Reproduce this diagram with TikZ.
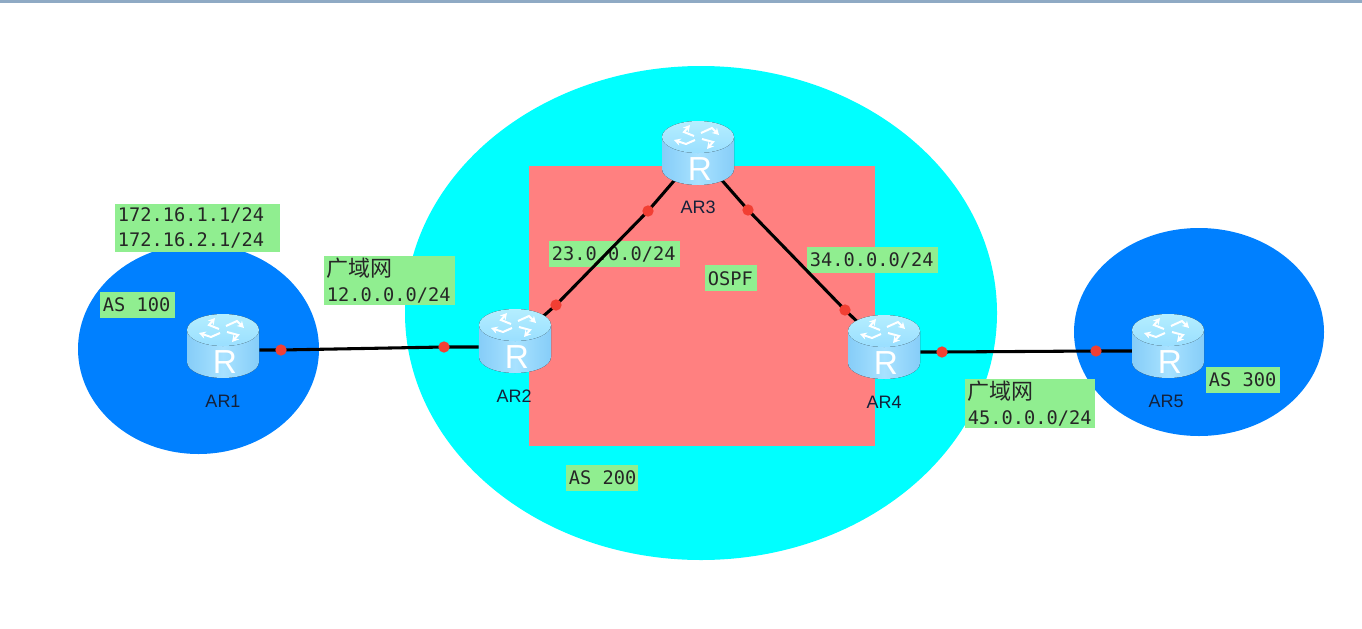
\documentclass[tikz,border=0pt]{standalone}
\usepackage{fontspec}
\setmainfont{Liberation Sans}
\newfontfamily\labelmono{DejaVu Sans Mono}
\newfontfamily\cjkfont{Noto Sans CJK SC}
\usetikzlibrary{arrows.meta}
\pgfdeclarelayer{backdrop}
\pgfdeclarelayer{links}
\pgfsetlayers{backdrop,links,main}
\definecolor{ascyan}{HTML}{00FFFF}
\definecolor{asblue}{HTML}{0080FF}
\definecolor{ospfred}{HTML}{FF8080}
\definecolor{notegreen}{HTML}{90EE90}
\definecolor{dotred}{HTML}{F23F33}
\definecolor{barblue}{HTML}{8FAAC4}
\definecolor{textdark}{HTML}{14213A}
\definecolor{bodyedge}{HTML}{86CDF8}
\definecolor{bodymid}{HTML}{A8E2FF}
\definecolor{topedge}{HTML}{9ADFFF}
\definecolor{topmid}{HTML}{B4EEFF}
\newcommand{\msp}{\hspace{0.602em}}
\newcommand{\upln}[1]{\raisebox{1.5pt}{#1}}
\tikzset{
  notebox/.style={fill=notegreen,anchor=north west,inner xsep=2pt,inner ysep=0pt,align=left,
    font=\labelmono\fontsize{14pt}{19pt}\selectfont,text=black!85},
  routerbox/.style={minimum width=54pt,minimum height=48pt,inner sep=0pt},
  routername/.style={font=\fontsize{13.5pt}{15pt}\selectfont,text=textdark},
  portdot/.style={circle,fill=dotred,minimum size=8.5pt,inner sep=0pt},
  netlink/.style={line width=2.3pt,black},
  iconarrow/.style={white,line width=1.5pt,-{Stealth[length=5pt,width=5.5pt]}},
  router/.pic={
    \fill[left color=bodyedge,right color=bodyedge,middle color=bodymid]
      (-36,-16) -- (-36,16) arc[start angle=180,end angle=0,x radius=36,y radius=16]
      -- (36,-16) -- cycle;
    \fill[top color=topmid,bottom color=topedge] (0,-16) ellipse[x radius=36,y radius=16];
    \draw[iconarrow] (-4,-17) -- (-14,-21) -- (-8,-28);
    \draw[iconarrow] (3,-20) -- (14,-25) -- (21,-18);
    \draw[iconarrow] (-3,-13) -- (-12,-9) -- (-24,-13);
    \draw[iconarrow] (4,-14) -- (15,-11) -- (9,-4);
    \node[inner sep=0pt,text=white,font=\fontsize{25pt}{27pt}\selectfont] at (2,16) {R};
  },
}
\begin{document}
\begin{tikzpicture}[x=0.75pt,y=-0.75pt]
\useasboundingbox (0,0) rectangle (1362,628);
% routers and ports
\pic at (223,346) {router};
\pic at (515,341) {router};
\pic at (698,153) {router};
\pic at (884,347) {router};
\pic at (1168,346) {router};
\node[routerbox] (ar1) at (223,346) {};
\node[routerbox] (ar2) at (515,341) {};
\node[routerbox] (ar3) at (698,153) {};
\node[routerbox] (ar4) at (884,347) {};
\node[routerbox] (ar5) at (1168,346) {};
\node[routername] (n1) at (223,401) {AR1};
\node[routername] (n2) at (514,396) {AR2};
\node[routername] (n3) at (698,207) {AR3};
\node[routername] (n4) at (884,402) {AR4};
\node[routername] (n5) at (1166,401) {AR5};
\node[portdot] (p1) at (281,350) {};
\node[portdot] (p2) at (444,347) {};
\node[portdot] (p3) at (556,305) {};
\node[portdot] (p4) at (648,211) {};
\node[portdot] (p5) at (748,210) {};
\node[portdot] (p6) at (845,310) {};
\node[portdot] (p7) at (942,352) {};
\node[portdot] (p8) at (1096,351) {};
\begin{pgfonlayer}{backdrop}
  \fill[barblue] (0,0) rectangle (1362,3);
  \fill[ascyan] (701,313) ellipse[x radius=296,y radius=247];
  \fill[asblue] (198.5,349) ellipse[x radius=120.5,y radius=105];
  \fill[asblue] (1199,332) ellipse[x radius=125,y radius=104];
  \fill[ospfred] (529,166) rectangle (874.5,446);
  \node[notebox,minimum width=123.75pt,text width=119.75pt,minimum height=36pt] (t1) at (115,204) {172.16.1.1/24\\172.16.2.1/24};
  \node[notebox,minimum width=98.25pt,text width=94.25pt,minimum height=36.75pt] (t2) at (324,256) {\upln{\cjkfont\fontsize{16.5pt}{19pt}\selectfont 广域网}\\\upln{12.0.0.0/24}};
  \node[notebox,minimum width=56.25pt,text width=52.25pt,minimum height=19.5pt] (t3) at (100,292) {\upln{\mbox{AS\msp 100}}};
  \node[notebox,minimum width=98.25pt,text width=94.25pt,minimum height=19.5pt] (t4) at (549,241) {23.0.0.0/24};
  \node[notebox,minimum width=39pt,text width=35pt,minimum height=19.5pt] (t5) at (705,265) {OSPF};
  \node[notebox,minimum width=98.25pt,text width=94.25pt,minimum height=19.5pt] (t6) at (807,247) {34.0.0.0/24};
  \node[notebox,minimum width=97.5pt,text width=93.5pt,minimum height=36.75pt] (t7) at (965,379) {\upln{\cjkfont\fontsize{16.5pt}{19pt}\selectfont 广域网}\\\upln{45.0.0.0/24}};
  \node[notebox,minimum width=55.5pt,text width=51.5pt,minimum height=19.5pt] (t8) at (1206,367) {\upln{\mbox{AS\msp 300}}};
  \node[notebox,minimum width=54pt,text width=50pt,minimum height=19pt] (t9) at (566,465) {\mbox{AS\msp 200}};
\end{pgfonlayer}
\begin{pgfonlayer}{links}
  \draw[netlink] (p1 -| ar1.east) -- (p1.center) -- (p2.center) -- (p2 -| ar2.west);
  \draw[netlink] (ar2.center) -- (p3.center) -- (p4.center) -- (ar3.center);
  \draw[netlink] (ar3.center) -- (p5.center) -- (p6.center) -- (ar4.center);
  \draw[netlink] (p7 -| ar4.east) -- (p7.center) -- (p8.center) -- (p8 -| ar5.west);
\end{pgfonlayer}
\end{tikzpicture}
\end{document}
